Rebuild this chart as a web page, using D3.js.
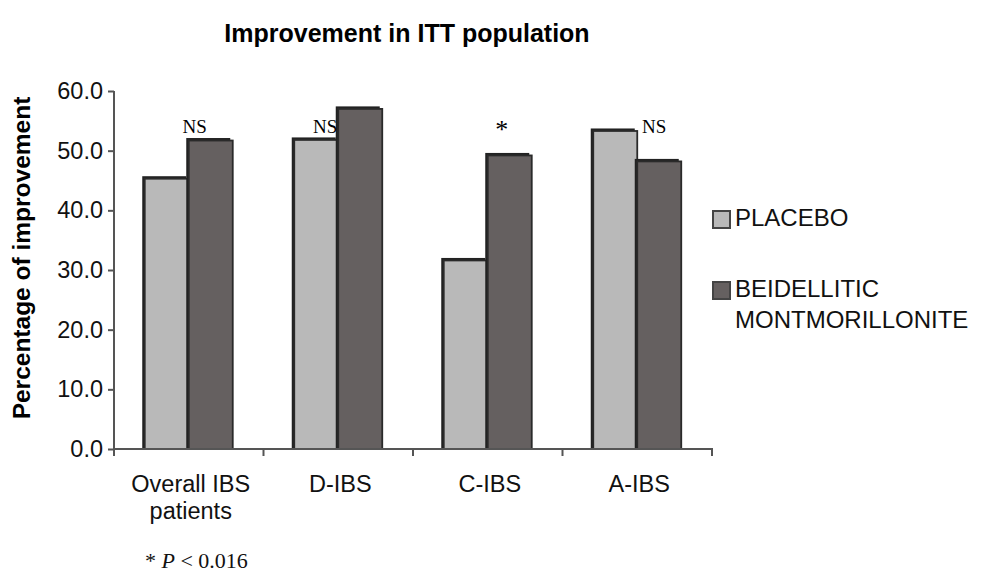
<!DOCTYPE html>
<html>
<head>
<meta charset="utf-8">
<script src="https://cdn.jsdelivr.net/npm/d3@7"></script>
<style>
  body { margin: 0; background: #fff; }
  svg { display: block; font-family: "Liberation Sans", Arial, sans-serif; }
</style>
</head>
<body>
<svg width="982" height="572"></svg>
<script>
// data
var categories = ["Overall IBS|patients", "D-IBS", "C-IBS", "A-IBS"];
var seriesNames = ["PLACEBO", "BEIDELLITIC|MONTMORILLONITE"];
var placebo = [45.3, 51.8, 31.6, 53.3];
var beidellitic = [51.7, 57.0, 49.2, 48.2];
var significance = ["NS", "NS", "*", "NS"];
var yTicks = [0, 10, 20, 30, 40, 50, 60];

var svg = d3.select("svg");
var colors = ["#b9b9b9", "#656060"];
var sigDx = [6, -13, 14, 17]; // label nudges, as in the original

var x = d3.scaleBand().domain(categories).range([114, 712]).padding(0);
var xs = d3.scaleBand().domain([0, 1])
    .range([x.bandwidth() / 2 - 44, x.bandwidth() / 2 + 44]);
var y = d3.scaleLinear().domain([0, 60]).range([449, 91]);

// title
svg.append("text")
  .attr("x", 407).attr("y", 42)
  .attr("text-anchor", "middle")
  .style("font-weight", "bold").style("font-size", "25px")
  .text("Improvement in ITT population");

// y label
svg.append("text")
  .attr("transform", "translate(30,258) rotate(-90)")
  .attr("text-anchor", "middle")
  .style("font-weight", "bold").style("font-size", "24.5px")
  .text("Percentage of improvement");

// bars
var rows = categories.map(function(c, i) {
  return { cat: c, i: i, vals: [placebo[i], beidellitic[i]] };
});

var groups = svg.selectAll("g.grp")
  .data(rows).enter().append("g")
  .attr("class", "grp")
  .attr("transform", d => "translate(" + x(d.cat) + ",0)");

groups.each(function(d) {
  var g = d3.select(this);
  d.vals.forEach(function(v, k) {
    // dark shadow on top/left edge
    g.append("rect")
      .attr("x", xs(k) - 2.5).attr("y", y(v) - 2.5)
      .attr("width", xs.bandwidth()).attr("height", y(0) - y(v) + 2.5)
      .attr("fill", "#222");
    g.append("rect")
      .attr("x", xs(k)).attr("y", y(v))
      .attr("width", xs.bandwidth()).attr("height", y(0) - y(v))
      .attr("fill", colors[k])
      .attr("stroke", "#2a2a2a").attr("stroke-width", 1.8);
  });
  var star = significance[d.i] === "*";
  g.append("text")
    .attr("x", x.bandwidth() / 2 + sigDx[d.i])
    .attr("y", star ? 138 : 133)
    .attr("text-anchor", "middle")
    .style("font-family", "'Liberation Serif', 'Times New Roman', serif")
    .style("font-size", star ? "26px" : "19px")
    .text(significance[d.i]);
});

// y axis
var yAxis = d3.axisLeft(y).tickValues(yTicks)
  .tickFormat(d3.format(".1f")).tickSize(6).tickPadding(5);
var ya = svg.append("g").attr("transform", "translate(114,0)").call(yAxis);
ya.select(".domain").remove();
ya.append("line").attr("x1", 0).attr("x2", 0).attr("y1", 91).attr("y2", 456)
  .attr("stroke", "#555").attr("stroke-width", 2);
ya.selectAll(".tick line").attr("stroke", "#555").attr("stroke-width", 2);
ya.selectAll(".tick text")
  .attr("fill", "#111")
  .style("font-family", "'Liberation Sans', Arial, sans-serif")
  .style("font-size", "23.5px");

// x axis
var xa = svg.append("g");
xa.append("line").attr("x1", 113).attr("x2", 713).attr("y1", y(0)).attr("y2", y(0))
  .attr("stroke", "#555").attr("stroke-width", 2);
xa.selectAll("line.tk").data(categories).enter().append("line")
  .attr("class", "tk")
  .attr("x1", d => x(d) + x.bandwidth()).attr("x2", d => x(d) + x.bandwidth())
  .attr("y1", y(0)).attr("y2", y(0) + 7)
  .attr("stroke", "#555").attr("stroke-width", 2);
xa.selectAll("text.cat").data(categories).enter().append("text")
  .attr("class", "cat")
  .attr("text-anchor", "middle")
  .attr("y", 492)
  .style("font-size", "23.5px")
  .attr("fill", "#111")
  .each(function(d) {
    var t = d3.select(this);
    d.split("|").forEach(function(line, j) {
      t.append("tspan")
        .attr("x", x(d) + x.bandwidth() / 2 + 2)
        .attr("dy", j === 0 ? 0 : 27)
        .text(line);
    });
  });

// legend
var legY = [211, 282];
var leg = svg.selectAll("g.leg").data(seriesNames).enter().append("g")
  .attr("class", "leg");
leg.append("rect")
  .attr("x", 713).attr("y", (d, i) => legY[i])
  .attr("width", 17).attr("height", 17)
  .attr("fill", (d, i) => colors[i])
  .attr("stroke", "#444").attr("stroke-width", 2);
leg.append("text")
  .attr("y", (d, i) => legY[i] + 15)
  .style("font-size", "24px")
  .attr("fill", "#111")
  .each(function(d) {
    var t = d3.select(this);
    d.split("|").forEach(function(line, j) {
      t.append("tspan").attr("x", 735).attr("dy", j === 0 ? 0 : 31).text(line);
    });
  });

// footnote
var fn = svg.append("text")
  .attr("x", 145).attr("y", 568)
  .style("font-family", "'Liberation Serif', 'Times New Roman', serif")
  .style("font-size", "22px")
  .attr("fill", "#111");
fn.append("tspan").text("* ");
fn.append("tspan").style("font-style", "italic").text("P");
fn.append("tspan").text(" < 0.016");
</script>
</body>
</html>
